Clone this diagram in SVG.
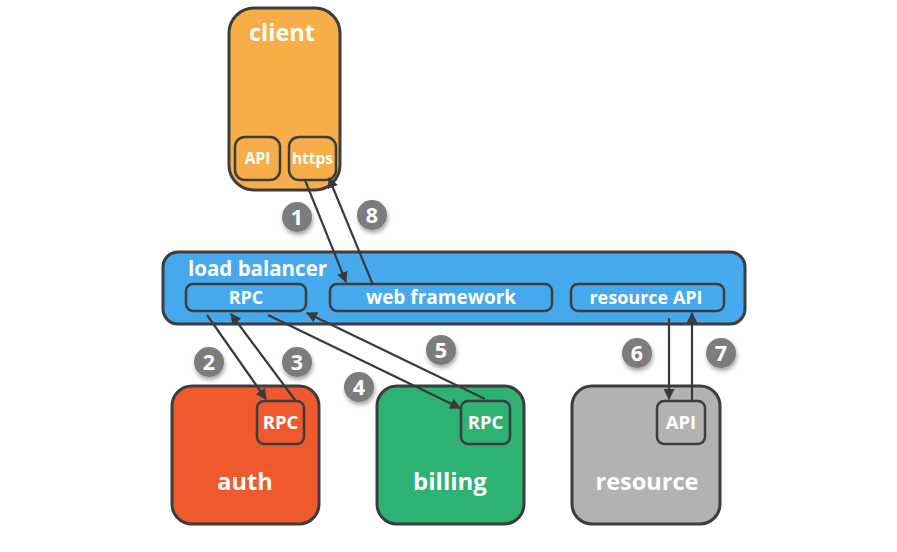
<svg xmlns="http://www.w3.org/2000/svg" width="897" height="552" viewBox="0 0 897 552">
<defs>
<style>
.box{stroke:#3d3d3d;stroke-width:3}
.sub{stroke:#3d3d3d;stroke-width:2.5}
text{font-family:"Open Sans","Liberation Sans",sans-serif;font-weight:bold;fill:#fff;text-anchor:middle}
.conn{stroke:#3a3a3a;stroke-width:2.2;fill:none;marker-end:url(#ah)}
.badge circle{fill:#7b7b7b;filter:url(#sh)}
.badge text{font-size:21.5px}
</style>
<marker id="ah" viewBox="0 0 10 10" refX="9" refY="5" markerWidth="5" markerHeight="5" orient="auto" markerUnits="strokeWidth">
<path d="M0,0 L10,5 L0,10 z" fill="#3a3a3a"/>
</marker>
<filter id="sh" x="-50%" y="-50%" width="200%" height="200%">
<feDropShadow dx="1" dy="3" stdDeviation="2" flood-color="#000" flood-opacity="0.35"/>
</filter>
</defs>

<g id="client">
<rect class="box" x="229" y="8" width="111" height="182" rx="25" fill="#f7ae48"/>
<text x="282" y="41" font-size="23.5">client</text>
<rect class="sub" x="235" y="137" width="45" height="43" rx="10" fill="#f7ae48"/>
<text x="257.5" y="164" font-size="15.5">API</text>
<rect class="sub" x="289" y="137" width="47" height="43" rx="10" fill="#f7ae48"/>
<text x="312.5" y="164" font-size="15.5">https</text>
</g>

<g id="load-balancer">
<rect class="box" x="163" y="252" width="582" height="72" rx="15" fill="#46a9ee"/>
<text x="188" y="276" font-size="20.5" style="text-anchor:start">load balancer</text>
<rect class="sub" x="186" y="284" width="120" height="27" rx="7" fill="#46a9ee"/>
<text x="246" y="304" font-size="18">RPC</text>
<rect class="sub" x="330" y="284" width="222" height="27" rx="7" fill="#46a9ee"/>
<text x="441" y="304" font-size="19">web framework</text>
<rect class="sub" x="571" y="284" width="153" height="27" rx="7" fill="#46a9ee"/>
<text x="646" y="304" font-size="18">resource API</text>
</g>

<g id="auth">
<rect class="box" x="172" y="386" width="147" height="138" rx="20" fill="#ee5a2e"/>
<rect class="sub" x="257" y="401" width="47" height="43" rx="7" fill="#ee5a2e"/>
<text x="280.5" y="429" font-size="18.5">RPC</text>
<text x="245" y="490" font-size="23.5">auth</text>
</g>

<g id="billing">
<rect class="box" x="377" y="386" width="147" height="138" rx="20" fill="#2db273"/>
<rect class="sub" x="461" y="401" width="49" height="43" rx="7" fill="#2db273"/>
<text x="485.5" y="429" font-size="18.5">RPC</text>
<text x="450" y="490" font-size="24">billing</text>
</g>

<g id="resource">
<rect class="box" x="572" y="386" width="148" height="138" rx="20" fill="#b2b2b2"/>
<rect class="sub" x="657" y="401" width="48" height="43" rx="7" fill="#b2b2b2"/>
<text x="681" y="429" font-size="18.5">API</text>
<text x="647" y="490" font-size="23.5">resource</text>
</g>

<g id="connectors">
<line class="conn" x1="305" y1="180" x2="346" y2="282"/>
<line class="conn" x1="373" y1="285" x2="329" y2="178"/>
<line class="conn" x1="207" y1="315" x2="266" y2="399"/>
<line class="conn" x1="295" y1="400" x2="231" y2="314"/>
<line class="conn" x1="268" y1="315" x2="460" y2="408"/>
<line class="conn" x1="485" y1="399" x2="307" y2="313"/>
<line class="conn" x1="669" y1="318" x2="669" y2="399"/>
<line class="conn" x1="692" y1="400" x2="692" y2="313"/>
</g>

<g id="badges">
<g class="badge"><circle cx="297" cy="217" r="15"/><text x="297" y="225">1</text></g>
<g class="badge"><circle cx="209" cy="362" r="15"/><text x="209" y="370">2</text></g>
<g class="badge"><circle cx="297" cy="362" r="15"/><text x="297" y="370">3</text></g>
<g class="badge"><circle cx="359" cy="387" r="15"/><text x="359" y="395">4</text></g>
<g class="badge"><circle cx="441" cy="350" r="15"/><text x="441" y="358">5</text></g>
<g class="badge"><circle cx="637" cy="353" r="15"/><text x="637" y="361">6</text></g>
<g class="badge"><circle cx="721" cy="353" r="15"/><text x="721" y="361">7</text></g>
<g class="badge"><circle cx="372" cy="215" r="15"/><text x="372" y="223">8</text></g>
</g>
</svg>
